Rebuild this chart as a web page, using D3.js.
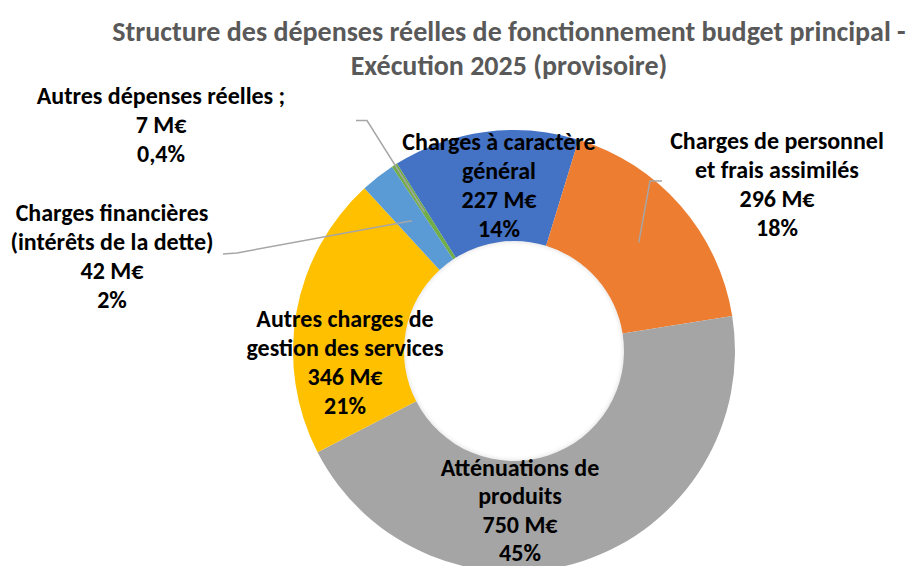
<!DOCTYPE html>
<html>
<head>
<meta charset="utf-8">
<script src="https://cdn.jsdelivr.net/npm/d3@7"></script>
<style>
  html, body { margin: 0; padding: 0; background: #fff; }
  svg { display: block; }
</style>
</head>
<body>
<svg id="chart" width="913" height="566"></svg>
<script>
// ---- Data ----
const titleLines = ["Structure des dépenses réelles de fonctionnement budget principal -", "Exécution 2025 (provisoire)"];
const categories = [
  "Charges à caractère général",
  "Charges de personnel et frais assimilés",
  "Atténuations de produits",
  "Autres charges de gestion des services",
  "Charges financières (intérêts de la dette)",
  "Autres dépenses réelles ;"
];
const categoryLines = [
  ["Charges à caractère", "général"],
  ["Charges de personnel", "et frais assimilés"],
  ["Atténuations de", "produits"],
  ["Autres charges de", "gestion des services"],
  ["Charges financières", "(intérêts de la dette)"],
  ["Autres dépenses réelles ;"]
];
const values = [227, 296, 750, 346, 42, 7];
const valueLabels = ["227 M€", "296 M€", "750 M€", "346 M€", "42 M€", "7 M€"];
const pctLabels = ["14%", "18%", "45%", "21%", "2%", "0,4%"];
const colors = ["#4472C4", "#ED7D31", "#A5A5A5", "#FFC000", "#5B9BD5", "#70AD47"];

// ---- Layout ----
const W = 913, H = 566;
const cx = 514, cy = 351, rOuter = 221, rInner = 110;
const startDeg = -32;
const labelLayout = [
  { x: 499, y: 141.5, step: 29 },
  { x: 777, y: 140, step: 29 },
  { x: 520, y: 467, step: 28.5 },
  { x: 345, y: 318.5, step: 29 },
  { x: 112, y: 212.5, step: 29 },
  { x: 161, y: 95, step: 29 }
];
const leaderStarts = [
  null,
  [[662, 181], [650, 181]],
  null,
  null,
  [[223, 254], [237, 253]],
  [[356, 120.5], [367, 120.5]]
];

const svg = d3.select("#chart");
const font = "Calibri, Carlito, Lato, 'Liberation Sans', sans-serif";

// Title
svg.append("g").selectAll("text").data(titleLines).join("text")
  .attr("x", 509)
  .attr("y", (d, i) => 31 + i * 34)
  .attr("text-anchor", "middle")
  .attr("dominant-baseline", "central")
  .attr("font-family", font)
  .attr("font-weight", "bold")
  .attr("font-size", 28)
  .attr("fill", "#595959")
  .text(d => d);

// Pie
const pie = d3.pie().sort(null).value(d => d)
  .startAngle(startDeg * Math.PI / 180)
  .endAngle(startDeg * Math.PI / 180 + 2 * Math.PI);
const arcs = pie(values);
const arc = d3.arc().innerRadius(rInner).outerRadius(rOuter);
const midArc = d3.arc().innerRadius((rInner + rOuter) / 2).outerRadius((rInner + rOuter) / 2);

const defs = svg.append("defs");
const f = defs.append("filter").attr("id", "blur").attr("x", "-20%").attr("y", "-20%").attr("width", "140%").attr("height", "140%");
f.append("feGaussianBlur").attr("stdDeviation", 2);
defs.append("clipPath").attr("id", "hole").append("circle").attr("cx", cx).attr("cy", cy).attr("r", rInner);

const g = svg.append("g").attr("transform", `translate(${cx},${cy})`);
g.selectAll("path.slice").data(arcs).join("path")
  .attr("class", "slice")
  .attr("d", arc)
  .attr("fill", (d, i) => colors[i]);

// subtle inner shadow at hole edge
svg.append("g").attr("clip-path", "url(#hole)")
  .append("circle").attr("cx", cx).attr("cy", cy).attr("r", rInner + 1)
  .attr("fill", "none").attr("stroke", "#000").attr("stroke-opacity", 0.15)
  .attr("stroke-width", 3).attr("filter", "url(#blur)");

// Leader lines
const lineGen = d3.line();
arcs.forEach((d, i) => {
  if (!leaderStarts[i]) return;
  const c = midArc.centroid(d);
  const pts = leaderStarts[i].concat([[cx + c[0], cy + c[1]]]);
  svg.append("path").attr("d", lineGen(pts))
    .attr("fill", "none").attr("stroke", "#A6A6A6").attr("stroke-width", 1.5);
});

// Labels
const lg = svg.append("g");
arcs.forEach((d, i) => {
  const lines = categoryLines[i].concat([valueLabels[i], pctLabels[i]]);
  const L = labelLayout[i];
  lg.append("g").selectAll("text").data(lines).join("text")
    .attr("x", L.x)
    .attr("y", (t, j) => L.y + j * L.step)
    .attr("text-anchor", "middle")
    .attr("dominant-baseline", "central")
    .attr("font-family", font)
    .attr("font-weight", "bold")
    .attr("font-size", 24)
    .attr("fill", "#000")
    .text(t => t);
});
</script>
</body>
</html>
